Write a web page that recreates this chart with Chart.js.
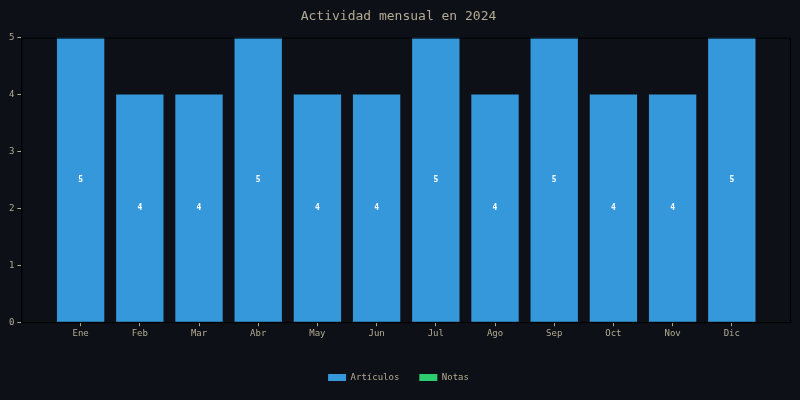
<!DOCTYPE html>
<html>
<head>
<meta charset="utf-8">
<script src="https://cdn.jsdelivr.net/npm/chart.js@4"></script>
<style>
  html, body { margin: 0; padding: 0; background: #0d1117; }
  #wrap { width: 800px; height: 400px; }
</style>
</head>
<body>
<div id="wrap"><canvas id="chart"></canvas></div>
<script>
// data
const months = ['Ene', 'Feb', 'Mar', 'Abr', 'May', 'Jun', 'Jul', 'Ago', 'Sep', 'Oct', 'Nov', 'Dic'];
const articulos = [5, 4, 4, 5, 4, 4, 5, 4, 5, 4, 4, 5];
const notas = [0, 0, 0, 0, 0, 0, 0, 0, 0, 0, 0, 0];
const yTicks = [0, 1, 2, 3, 4, 5];

const textColor = '#b3ab93';
const frameColor = '#000000';
const fontFam = "'DejaVu Sans Mono', monospace";

// empty slot before and after so months sit one step in from each edge
const labels = [''].concat(months, ['']);
const padData = arr => [null].concat(arr, [null]);

// frame around plot area + value text inside bars
const framePlugin = {
    id: 'frame',
    afterDatasetsDraw(chart) {
        const ctx = chart.ctx, a = chart.chartArea;
        ctx.save();
        ctx.strokeStyle = frameColor;
        ctx.lineWidth = 1;
        ctx.strokeRect(a.left + 0.5, a.top + 0.5, a.right - a.left - 1, a.bottom - a.top);
        const meta = chart.getDatasetMeta(0);
        ctx.fillStyle = '#ffffff';
        ctx.font = 'bold 8px ' + fontFam;
        ctx.textAlign = 'center';
        ctx.textBaseline = 'middle';
        meta.data.forEach((bar, i) => {
            const v = chart.data.datasets[0].data[i];
            if (v == null) return;
            ctx.fillText(String(v), bar.x, (bar.y + bar.base) / 2);
        });
        ctx.restore();
    }
};

new Chart(document.getElementById('chart'), {
    type: 'bar',
    data: {
        labels: labels,
        datasets: [
            { label: 'Artículos', data: padData(articulos), backgroundColor: '#3498db', borderWidth: 0 },
            { label: 'Notas', data: padData(notas), backgroundColor: '#2ecc71', borderWidth: 0 }
        ]
    },
    options: {
        responsive: true,
        maintainAspectRatio: false,
        animation: false,
        datasets: { bar: { barPercentage: 0.8, categoryPercentage: 1.0 } },
        layout: { padding: { left: 6, right: 9, top: 4, bottom: 8 } },
        plugins: {
            title: {
                display: true,
                text: 'Actividad mensual en 2024',
                color: textColor,
                font: { family: fontFam, size: 13, weight: 'normal' },
                padding: { top: 5, bottom: 13 }
            },
            legend: {
                position: 'bottom',
                labels: {
                    color: textColor,
                    font: { family: fontFam, size: 9 },
                    boxWidth: 18,
                    boxHeight: 7,
                    padding: 20
                }
            },
            tooltip: { enabled: false }
        },
        scales: {
            x: {
                stacked: true,
                offset: false,
                border: { display: true, color: frameColor },
                afterFit: axis => { axis.height += 12; },
                grid: {
                    offset: false,
                    drawOnChartArea: false,
                    tickLength: 4,
                    tickColor: c => (c.index === 0 || c.index === labels.length - 1) ? 'rgba(0,0,0,0)' : textColor
                },
                ticks: {
                    color: textColor,
                    font: { family: fontFam, size: 9 },
                    maxRotation: 0,
                    autoSkip: false,
                    padding: 2
                }
            },
            y: {
                stacked: true,
                min: 0,
                max: 5,
                border: { display: true, color: frameColor },
                grid: { drawOnChartArea: false, tickLength: 4, tickColor: textColor },
                afterBuildTicks: axis => { axis.ticks = yTicks.map(v => ({ value: v })); },
                ticks: {
                    color: textColor,
                    font: { family: fontFam, size: 9 },
                    padding: 3
                }
            }
        }
    },
    plugins: [framePlugin]
});
</script>
</body>
</html>
